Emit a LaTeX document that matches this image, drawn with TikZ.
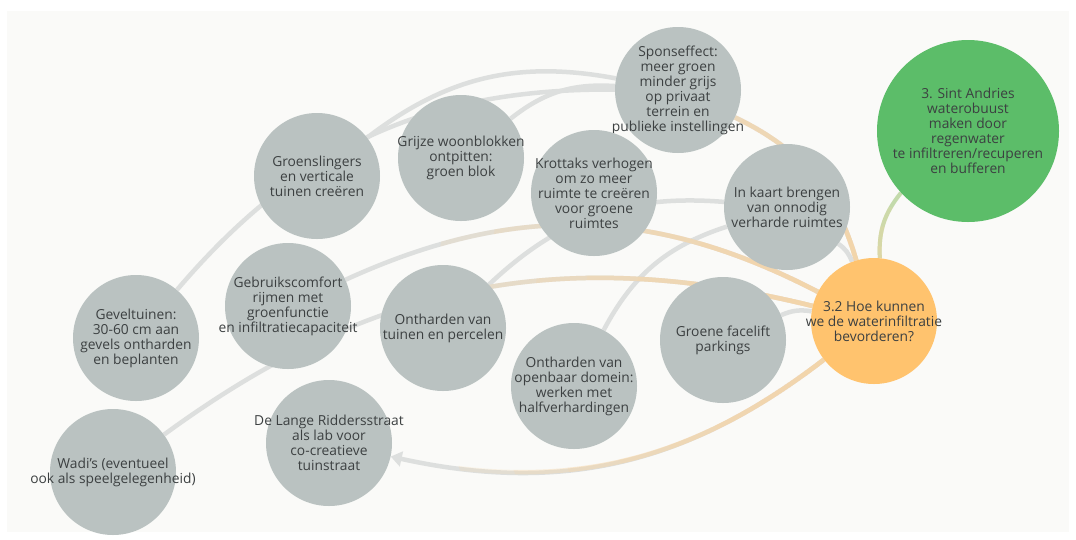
\documentclass[tikz,border=0pt]{standalone}
\usepackage{fontspec}
\setmainfont{Open Sans}
\usetikzlibrary{arrows.meta}
\definecolor{canvas}{HTML}{FAFAF8}
\definecolor{nodegrey}{HTML}{BAC2C1}
\definecolor{hubyellow}{HTML}{FFC36E}
\definecolor{topgreen}{HTML}{5CBD69}
\definecolor{linkgrey}{HTML}{DDDFDE}
\definecolor{linkwarm}{HTML}{F9D5A2}
\definecolor{linkgreen}{HTML}{B6DCAE}
\definecolor{inkgrey}{HTML}{3C4041}
\pgfdeclarelayer{bg}
\pgfsetlayers{bg,main}

\begin{document}
\begin{tikzpicture}[x=1pt,y=1pt,
  bubble/.style={circle, fill=nodegrey, minimum size=126pt, inner sep=0pt},
  txt/.style={align=center, text=inkgrey, inner sep=0pt, font=\fontsize{13.8}{15}\selectfont},
  link/.style={draw=linkgrey, line width=4.5pt},
  glow/.style={draw=linkwarm, line width=4.5pt, draw opacity=0.2}]
\useasboundingbox (0,0) rectangle (1076,-539);
% bollen
\node[bubble, label={[txt]center:{Sponseffect:\\meer groen\\minder grijs\\op privaat\\terrein en\\publieke instellingen}}] (spons) at (678,-90) {};
\node[bubble, fill=topgreen, minimum size=182pt, label={[txt]center:{3. Sint Andries\\waterobuust\\maken door\\regenwater\\te infiltreren/recuperen\\en bufferen}}] (top) at (968,-131) {};
\node[bubble, label={[txt]center:{Groenslingers\\en verticale\\tuinen creëren}}] (slinger) at (317,-176) {};
\node[bubble, label={[txt]center:{Grijze woonblokken\\ontpitten:\\groen blok}}] (grijs) at (461,-158) {};
\node[bubble, label={[txt]center:{Krottaks verhogen\\om zo meer\\ruimte te creëren\\voor groene\\ruimtes}}] (krot) at (594,-193) {};
\node[bubble, label={[txt]center:{In kaart brengen\\van onnodig\\verharde ruimtes}}] (kaart) at (787,-207) {};
\node[bubble, fill=hubyellow, label={[txt]center:{3.2 Hoe kunnen\\we de waterinfiltratie\\bevorderen?}}] (hub) at (874,-321) {};
\node[bubble, label={[txt]center:{Groene facelift\\parkings}}] (facelift) at (723,-340) {};
\node[bubble, label={[txt]center:{Ontharden van\\openbaar domein:\\werken met\\halfverhardingen}}] (openbaar) at (574,-386) {};
\node[bubble, label={[txt]center:{Ontharden van\\tuinen en percelen}}] (tuinen) at (443,-328) {};
\node[bubble, label={[txt]center:{Gebruikscomfort\\rijmen met\\groenfunctie\\en infiltratiecapaciteit}}] (comfort) at (288,-306) {};
\node[bubble, label={[txt]center:{Geveltuinen:\\30-60 cm aan\\gevels ontharden\\en beplanten}}] (gevel) at (136,-338) {};
\node[bubble, label={[txt]center:{Wadi's (eventueel\\ook als speelgelegenheid)}}] (wadi) at (113,-472) {};
\node[bubble, label={[txt]center:{De Lange Riddersstraat\\als lab voor\\co-creatieve\\tuinstraat}}] (lab) at (329,-443) {};
% verbindingen achter de bollen
\begin{pgfonlayer}{bg}
\fill[canvas] (7,-11) rectangle (1069,-532);
\draw[link] (gevel) to[bend left=25] (spons);
\draw[link] (slinger) to[bend left=24] (spons);
\draw[link] (grijs) to[bend left=21] (spons);
\draw[link] (tuinen) to[bend left=24] (kaart);
\draw[link] (openbaar) to[bend left=22] (kaart);
\draw[link] (kaart) to[bend left=17] (hub);
\draw[link] (facelift) to[bend left=16] (hub);
\foreach \src/\bnd in {spons/24, comfort/26, wadi/25}
  \draw[link] (\src) to[bend left=\bnd] (hub);
\draw[link, -{Triangle[length=11pt,width=15pt]}] (hub) to[bend left=25] (lab);
\draw[link, draw=linkgreen, line width=4pt] (hub) to[bend left=21] (top);
% oranje gloed dichter bij de hoofdvraag
\foreach \r in {90,140,...,440}{
  \begin{scope}
    \clip (hub) circle (\r);
    \foreach \src/\bnd in {spons/24, comfort/26, wadi/25}
      \draw[glow] (\src) to[bend left=\bnd] (hub);
    \draw[glow] (hub) to[bend left=25] (lab);
  \end{scope}
}
\foreach \r in {75,95,115,135}{
  \begin{scope}
    \clip (hub) circle (\r);
    \draw[glow, line width=4pt] (hub) to[bend left=21] (top);
  \end{scope}
}
\end{pgfonlayer}
\end{tikzpicture}
\end{document}
